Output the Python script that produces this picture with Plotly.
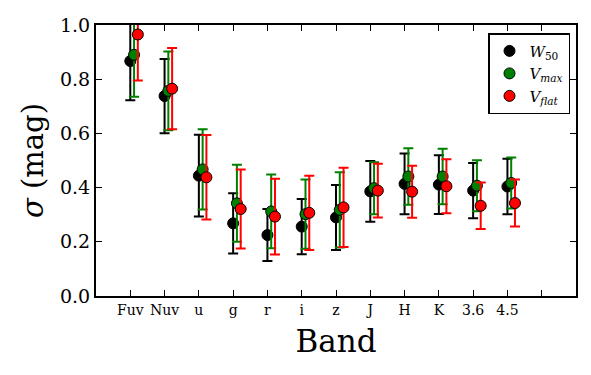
import plotly.graph_objects as go

bands = ["Fuv", "Nuv", "u", "g", "r", "i", "z", "J", "H", "K", "3.6", "4.5"]
positions = list(range(1, 13))

w50 = [0.867, 0.738, 0.444, 0.268, 0.225, 0.256, 0.290, 0.386, 0.414, 0.411, 0.389, 0.404]
w50_err = [0.145, 0.137, 0.151, 0.111, 0.096, 0.102, 0.120, 0.112, 0.112, 0.108, 0.102, 0.102]

vmax = [0.890, 0.757, 0.467, 0.342, 0.312, 0.302, 0.318, 0.398, 0.441, 0.441, 0.407, 0.417]
vmax_err = [0.155, 0.145, 0.148, 0.142, 0.136, 0.128, 0.139, 0.096, 0.104, 0.102, 0.094, 0.094]

vflat = [0.965, 0.765, 0.438, 0.321, 0.293, 0.307, 0.327, 0.389, 0.385, 0.405, 0.333, 0.343]
vflat_err = [0.170, 0.150, 0.156, 0.146, 0.140, 0.137, 0.146, 0.099, 0.096, 0.100, 0.086, 0.087]

series = [
    ("<i>W</i><sub>50</sub>", w50, w50_err, "black", 0.0),
    ("<i>V</i><sub><i>max</i></sub>", vmax, vmax_err, "green", 0.11),
    ("<i>V</i><sub><i>flat</i></sub>", vflat, vflat_err, "red", 0.22),
]

font_family = "DejaVu Serif"

fig = go.Figure()
for name, vals, errs, color, off in series:
    fig.add_trace(go.Scatter(
        x=[p + off for p in positions],
        y=vals,
        mode="markers",
        name=name,
        marker=dict(color=color, size=11, line=dict(color="black", width=1)),
        error_y=dict(type="data", array=errs, visible=True, color=color,
                     thickness=2, width=5),
        cliponaxis=True,
    ))

fig.update_layout(
    width=591, height=375,
    margin=dict(l=96, r=15, t=25, b=79),
    paper_bgcolor="white", plot_bgcolor="white",
    font=dict(family=font_family, color="black"),
    showlegend=True,
    legend=dict(
        x=0.9875, y=0.97, xanchor="right", yanchor="top",
        bgcolor="white", bordercolor="black", borderwidth=1.5,
        font=dict(size=15, family=font_family),
        itemwidth=30,
    ),
)

fig.update_xaxes(
    range=[0, 14],
    tickmode="array",
    tickvals=positions,
    ticktext=bands,
    ticks="inside", ticklen=6, tickwidth=1, tickcolor="black",
    minor=dict(tickmode="linear", tick0=0, dtick=1, ticks="inside",
               ticklen=6, tickwidth=1, tickcolor="black", showgrid=False),
    showline=True, linecolor="black", linewidth=2, mirror="ticks",
    showgrid=False, zeroline=False,
    tickfont=dict(size=14, family=font_family),
    title=dict(text="Band", font=dict(size=31, family=font_family), standoff=14),
)

fig.update_yaxes(
    range=[0, 1],
    tickmode="linear", tick0=0, dtick=0.2, tickformat=".1f",
    ticks="inside", ticklen=6, tickwidth=1, tickcolor="black",
    showline=True, linecolor="black", linewidth=2, mirror="ticks",
    showgrid=False, zeroline=False,
    tickfont=dict(size=19, family=font_family),
    title=dict(text="<i>σ</i> (mag)", font=dict(size=29, family=font_family), standoff=8),
)

fig.write_html("out.html")
